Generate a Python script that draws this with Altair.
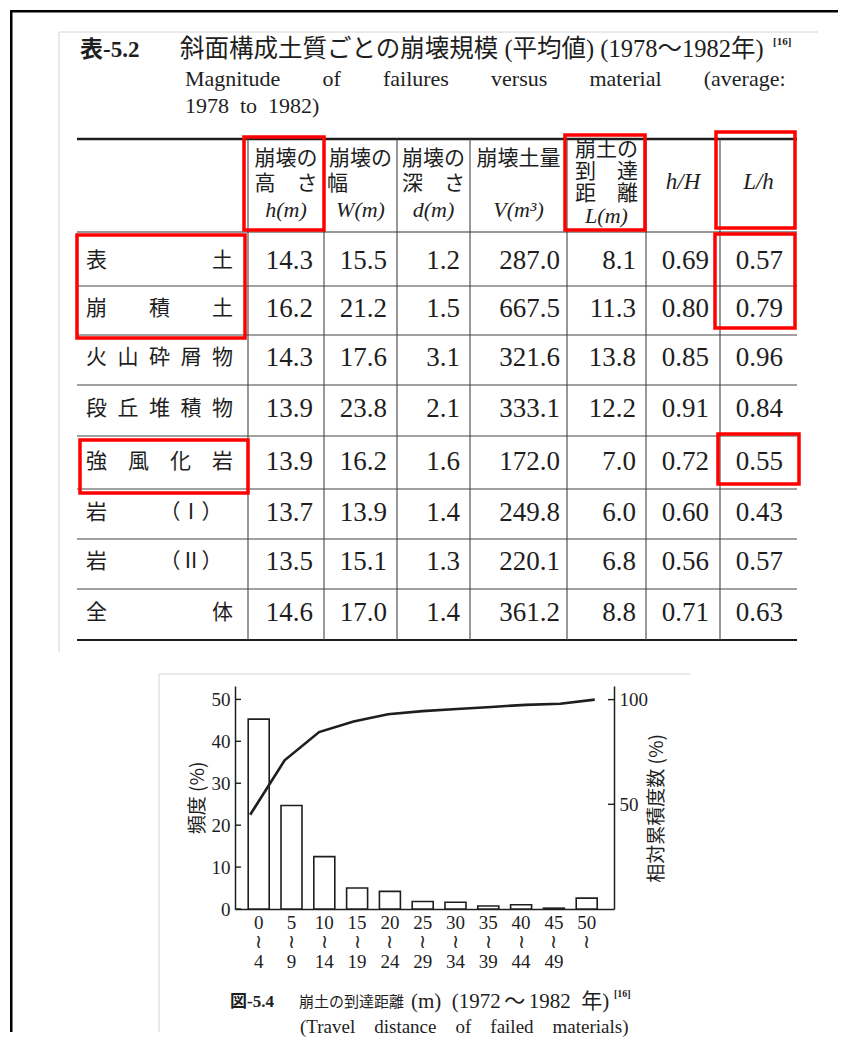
import altair as alt
import pandas as pd

# ---------------- text & data ----------------
table_no = "表-5.2"
table_title_ja = "斜面構成土質ごとの崩壊規模 (平均値) (1978～1982年)"
table_ref = "[16]"
table_title_en1 = "Magnitude of failures versus material (average:"
table_title_en2 = "1978 to 1982)"

materials = ["表土", "崩積土", "火山砕屑物", "段丘堆積物", "強風化岩", "岩（Ⅰ）", "岩（Ⅱ）", "全体"]
h_m = [14.3, 16.2, 14.3, 13.9, 13.9, 13.7, 13.5, 14.6]
W_m = [15.5, 21.2, 17.6, 23.8, 16.2, 13.9, 15.1, 17.0]
d_m = [1.2, 1.5, 3.1, 2.1, 1.6, 1.4, 1.3, 1.4]
V_m3 = [287.0, 667.5, 321.6, 333.1, 172.0, 249.8, 220.1, 361.2]
L_m = [8.1, 11.3, 13.8, 12.2, 7.0, 6.0, 6.8, 8.8]
h_H = [0.69, 0.80, 0.85, 0.91, 0.72, 0.60, 0.56, 0.71]
L_h = [0.57, 0.79, 0.96, 0.84, 0.55, 0.43, 0.57, 0.63]

header_line1 = ["崩壊の", "崩壊の", "崩壊の", "崩壊土量"]
header_line2 = ["高　さ", "幅", "深　さ", ""]
header_L = ["崩土の", "到　達", "距　離"]
header_var = ["h(m)", "W(m)", "d(m)", "V(m³)", "L(m)"]
header_ratio = ["h/H", "L/h"]

bins = ["0～4", "5～9", "10～14", "15～19", "20～24", "25～29",
        "30～34", "35～39", "40～44", "45～49", "50～"]
freq = [45.3, 24.7, 12.5, 5.0, 4.2, 1.8, 1.6, 0.7, 1.0, 0.2, 2.6]
cum = [45.0, 71.0, 84.5, 89.5, 93.0, 94.5, 95.5, 96.5, 97.5, 98.0, 100.0]
left_ticks = [0, 10, 20, 30, 40, 50]
right_ticks = [50, 100]

fig_no = "図-5.4"
fig_title_ja = "崩土の到達距離"
fig_title_ja2 = "(m) (1972～1982 年)"
fig_ref = "[16]"
fig_title_en = "(Travel distance of failed materials)"

# ---------------- styles ----------------
INK = "#1e1e1e"
RED = "#ff0000"
GREY = "#d4d4d4"
SERIF = "Liberation Serif, DejaVu Serif, serif"
MIX = "Liberation Serif, Noto Sans CJK JP, serif"
CJK = "Noto Sans CJK JP, sans-serif"

label_display = {
    "表土": "表　　　　　土",
    "崩積土": "崩　　積　　土",
    "火山砕屑物": "火\u2002山\u2002砕\u2002屑\u2002物",
    "段丘堆積物": "段\u2002丘\u2002堆\u2002積\u2002物",
    "強風化岩": "強　風　化　岩",
    "岩（Ⅰ）": "岩　　　（Ⅰ）",
    "岩（Ⅱ）": "岩　　　（Ⅱ）",
    "全体": "全　　　　　体",
}

# The single view is the histogram's plot area; its top-left corner sits at
# page (233, 684). All decoration and the table are placed relative to it.
OX, OY = 233, 684
PW, PH = 379, 223

one = pd.DataFrame({"k": [0]})


def hline(x1, x2, y, w=1.0, c=INK):
    return alt.Chart(one).mark_rule(color=c, strokeWidth=w).encode(
        x=alt.value(x1 - OX), x2=alt.value(x2 - OX), y=alt.value(y - OY))


def vline(x, y1, y2, w=1.0, c=INK):
    return alt.Chart(one).mark_rule(color=c, strokeWidth=w).encode(
        x=alt.value(x - OX), y=alt.value(y1 - OY), y2=alt.value(y2 - OY))


def box(x1, y1, x2, y2, c=RED, w=3.5):
    return alt.Chart(one).mark_rect(fillOpacity=0, stroke=c, strokeWidth=w).encode(
        x=alt.value(x1 - OX), x2=alt.value(x2 - OX), y=alt.value(y1 - OY), y2=alt.value(y2 - OY))


def text(txt, x, y, size, font, weight="normal", style="normal", align="left"):
    return alt.Chart(pd.DataFrame({"t": [txt]})).mark_text(
        align=align, baseline="middle", fontSize=size, font=font,
        fontWeight=weight, fontStyle=style, color=INK).encode(
        text="t:N", x=alt.value(x - OX), y=alt.value(y - OY))


layers = []
# outer black frame and faint scan edges
layers.append(hline(8, 836, 9.25, w=2.5, c="#000"))
layers.append(vline(9.25, 8, 1030, w=2.5, c="#000"))
layers.append(hline(57, 816, 30, w=1, c=GREY))
layers.append(vline(57, 30, 650, w=1, c=GREY))
layers.append(hline(157, 688, 672, w=1, c=GREY))
layers.append(vline(157, 672, 1030, w=1, c=GREY))

# ---------------- table ----------------
layers.append(text(table_no, 78, 48, 23, MIX, weight="bold"))
layers.append(text(table_title_ja, 178, 48, 24.5, MIX))
layers.append(text(table_ref, 771, 40, 11, SERIF, weight="bold"))
layers.append(text(table_title_en1.replace(" ", "\u2003\u2002\u2005\u2006"), 183, 77, 22, SERIF))
layers.append(text(table_title_en2.replace(" ", "\u2002"), 183, 104, 22, SERIF))

layers.append(hline(75, 795, 137, w=2.6))
layers.append(hline(75, 795, 230, w=1.2, c="#333"))
for yy in [284, 333, 383, 434, 487, 537, 587]:
    layers.append(hline(75, 795, yy, w=1.1, c="#444"))
layers.append(hline(75, 795, 638, w=2.2))
for xx in [246, 322, 395, 468, 565, 644, 718]:
    layers.append(vline(xx, 137, 638, w=1.1, c="#444"))

row_scale = alt.Scale(domain=list(range(8)),
                      range=[y - OY for y in [259, 307, 356, 407, 460, 511, 560, 611]],
                      zero=False, nice=False)
val_scale = alt.Scale(domain=list(range(7)),
                      range=[x - OX for x in [311, 385, 458, 558, 634, 707, 781]],
                      zero=False, nice=False)
hdr_scale = alt.Scale(domain=list(range(7)),
                      range=[x - OX for x in [284, 358.5, 431.5, 516.5, 604.5, 681, 756.5]],
                      zero=False, nice=False)

cols = [h_m, W_m, d_m, V_m3, L_m, h_H, L_h]
fmts = [".1f", ".1f", ".1f", ".1f", ".1f", ".2f", ".2f"]
recs = []
for ri in range(len(materials)):
    for ci, (vals, fm) in enumerate(zip(cols, fmts)):
        recs.append({"ri": ri, "ci": ci, "txt": format(vals[ri], fm)})
df_vals = pd.DataFrame(recs)
df_lab = pd.DataFrame({"ri": list(range(len(materials))),
                       "disp": [label_display[m] for m in materials]})

layers.append(alt.Chart(df_vals).mark_text(
    align="right", baseline="middle", font=SERIF, fontSize=27, color=INK).encode(
    x=alt.X("ci:Q", scale=val_scale, axis=None),
    y=alt.Y("ri:Q", scale=row_scale, axis=None),
    text="txt:N"))
layers.append(alt.Chart(df_lab).mark_text(
    align="left", baseline="middle", font=CJK, fontSize=21, color=INK).encode(
    x=alt.value(84 - OX),
    y=alt.Y("ri:Q", scale=row_scale, axis=None),
    text="disp:N"))

hdr_txt = dict(baseline="middle", font=CJK, fontSize=21, color=INK)
df_h1 = pd.DataFrame({"ci": [0, 1, 2, 3], "t": header_line1})
df_h2 = pd.DataFrame({"ci": [0, 2], "t": [header_line2[0], header_line2[2]]})
layers.append(alt.Chart(df_h1).mark_text(align="center", **hdr_txt).encode(
    x=alt.X("ci:Q", scale=hdr_scale, axis=None), y=alt.value(157 - OY), text="t:N"))
layers.append(alt.Chart(df_h2).mark_text(align="center", **hdr_txt).encode(
    x=alt.X("ci:Q", scale=hdr_scale, axis=None), y=alt.value(182 - OY), text="t:N"))
layers.append(text(header_line2[1], 325, 182, 21, CJK))
layers.append(alt.Chart(pd.DataFrame({"ci": [4], "lines": [header_L]})).mark_text(
    align="center", lineHeight=22, **hdr_txt).encode(
    x=alt.X("ci:Q", scale=hdr_scale, axis=None), y=alt.value(148 - OY), text="lines:N"))

var_txt = dict(align="center", baseline="middle", font=SERIF, fontSize=22, fontStyle="italic", color=INK)
layers.append(alt.Chart(pd.DataFrame({"ci": [0, 1, 2, 3], "t": header_var[:4]})).mark_text(**var_txt).encode(
    x=alt.X("ci:Q", scale=hdr_scale, axis=None), y=alt.value(208 - OY), text="t:N"))
layers.append(alt.Chart(pd.DataFrame({"ci": [4], "t": [header_var[4]]})).mark_text(**var_txt).encode(
    x=alt.X("ci:Q", scale=hdr_scale, axis=None), y=alt.value(214 - OY), text="t:N"))
layers.append(alt.Chart(pd.DataFrame({"ci": [5, 6], "t": header_ratio})).mark_text(
    align="center", baseline="middle", font=SERIF, fontSize=23, fontStyle="italic", color=INK).encode(
    x=alt.X("ci:Q", scale=hdr_scale, axis=None), y=alt.value(180 - OY), text="t:N"))

for b in [(242, 135, 322, 228), (563, 133, 643, 228), (714, 130, 793, 226),
          (75, 233, 243, 336), (713, 232, 793, 326), (78, 438, 246, 491), (716, 432, 797, 482)]:
    layers.append(box(*b))

# ---------------- histogram + cumulative curve ----------------
df_bar = pd.DataFrame({"bin": bins, "freq": freq, "cum": cum})
x_scale = alt.Scale(paddingInner=0.36, paddingOuter=0.4575, align=0.44)
x_axis = alt.Axis(title=None, labelAngle=0, ticks=False, tickSize=0,
                  domainColor=INK, domainWidth=1.5,
                  labelFont=SERIF, labelFontSize=19, labelColor=INK,
                  labelLineHeight=19.5, labelPadding=4,
                  labelExpr="[split(datum.label,'～')[0], '≀', split(datum.label,'～')[1]]")

yl_scale = alt.Scale(domain=[0, 53.2], nice=False)
yl_axis = alt.Axis(title="頻度 (%)", values=left_ticks, ticks=False, tickSize=0, grid=False,
                   domainColor=INK, domainWidth=1.5,
                   labelFont=SERIF, labelFontSize=19, labelColor=INK, labelPadding=5,
                   titleFont=CJK, titleFontSize=19, titleFontWeight="normal", titleColor=INK,
                   titlePadding=4)
yr_scale = alt.Scale(domain=[0, 106.5], nice=False)
yr_axis = alt.Axis(orient="right", title="相対累積度数 (%)", values=right_ticks, ticks=False,
                   tickSize=0, grid=False, domainColor=INK, domainWidth=1.5,
                   labelFont=SERIF, labelFontSize=19, labelColor=INK, labelPadding=5,
                   titleFont=CJK, titleFontSize=19, titleFontWeight="normal", titleColor=INK,
                   titleAngle=270, titleBaseline="top", titlePadding=0, titleY=122)

bars = alt.Chart(df_bar).mark_bar(fill="white", stroke=INK, strokeWidth=1.6).encode(
    x=alt.X("bin:N", sort=bins, scale=x_scale, axis=x_axis),
    y=alt.Y("freq:Q", scale=yl_scale, axis=yl_axis))
lticks = alt.Chart(pd.DataFrame({"freq": left_ticks})).mark_rule(color=INK, strokeWidth=1.4).encode(
    y=alt.Y("freq:Q", scale=yl_scale, axis=yl_axis), x=alt.value(0), x2=alt.value(6))
line = alt.Chart(df_bar).mark_line(color=INK, strokeWidth=2.6).encode(
    x=alt.X("bin:N", sort=bins, scale=x_scale, axis=None),
    y=alt.Y("cum:Q", scale=yr_scale, axis=yr_axis))
rticks = alt.Chart(pd.DataFrame({"cum": right_ticks})).mark_rule(color=INK, strokeWidth=1.4).encode(
    y=alt.Y("cum:Q", scale=yr_scale, axis=yr_axis), x=alt.value(PW - 6), x2=alt.value(PW))

layers.append(text(fig_no, 228, 1000, 17, MIX, weight="bold"))
layers.append(text(fig_title_ja, 297, 1000, 15, CJK))
layers.append(text(fig_title_ja2.replace(" ", "\u2002").replace("～", "\u2006～\u2006"), 409, 1000, 21, MIX))
layers.append(text(fig_ref, 612, 992, 10, SERIF, weight="bold"))
layers.append(text(fig_title_en.replace(" ", "\u2003"), 298, 1025, 19, SERIF))

chart = alt.layer(alt.layer(bars, lticks), alt.layer(line, rticks), *layers).resolve_scale(
    x="independent", y="independent").properties(
    width=PW, height=PH, padding=0, background="white").configure_view(stroke=None)

chart.save("out.html", embed_options={"renderer": "svg", "actions": False})
